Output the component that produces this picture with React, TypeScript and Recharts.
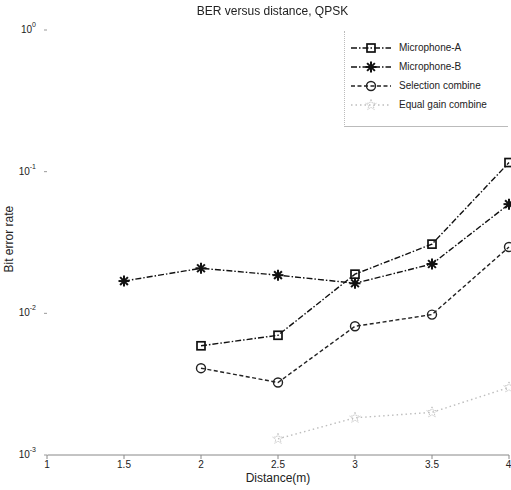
import React from "react";
import { Line, LineChart, XAxis, YAxis } from "recharts";

const distances = [1.5, 2, 2.5, 3, 3.5, 4];
const micA = [null, 0.0059, 0.007, 0.0189, 0.0308, 0.116];
const micB = [0.0169, 0.0208, 0.0186, 0.0163, 0.0223, 0.059];
const selection = [null, 0.0041, 0.00325, 0.0081, 0.0098, 0.0294];
const equalGain = [null, null, 0.0013, 0.00183, 0.002, 0.003];

const xTicks = [1, 1.5, 2, 2.5, 3, 3.5, 4];
const yTicks = [0.001, 0.01, 0.1, 1];
const yMinor = [2, 3, 4, 5, 6, 7, 8, 9].flatMap((m) => [m * 0.001, m * 0.01, m * 0.1]);

const data = distances.map((d, i) => ({
  d,
  micA: micA[i],
  micB: micB[i],
  selection: selection[i],
  equalGain: equalGain[i],
}));

const FONT = "'Liberation Sans', Arial, sans-serif";
const GREY = "#bdbdbd";

type MarkerKind = "square" | "star" | "circle" | "pent";

function Marker({ kind, cx, cy, color }: { kind: MarkerKind; cx: number; cy: number; color: string }) {
  if (kind === "square")
    return <rect x={cx - 4} y={cy - 4} width={8} height={8} fill="none" stroke={color} strokeWidth={1.7} />;
  if (kind === "circle") return <circle cx={cx} cy={cy} r={4.5} fill="none" stroke={color} strokeWidth={1.4} />;
  if (kind === "star") {
    const r = 5.5;
    const lines = [0, 45, 90, 135].map((a) => {
      const t = (a * Math.PI) / 180;
      return (
        <line key={a} x1={cx - r * Math.cos(t)} y1={cy - r * Math.sin(t)} x2={cx + r * Math.cos(t)} y2={cy + r * Math.sin(t)} stroke={color} strokeWidth={2} />
      );
    });
    return <g>{lines}</g>;
  }
  const pts: string[] = [];
  for (let k = 0; k < 10; k++) {
    const rr = k % 2 === 0 ? 5.5 : 2.3;
    const t = -Math.PI / 2 + (k * Math.PI) / 5;
    pts.push(`${cx + rr * Math.cos(t)},${cy + rr * Math.sin(t)}`);
  }
  return <polygon points={pts.join(" ")} fill="none" stroke={color} strokeWidth={0.9} strokeDasharray="1.5 1" />;
}

const dot = (kind: MarkerKind, color: string) => (p: any) => {
  if (p.value == null || p.cx == null || p.cy == null) return <g key={p.index} />;
  return <Marker key={p.index} kind={kind} cx={p.cx} cy={p.cy} color={color} />;
};

const series = [
  { key: "micA", name: "Microphone-A", kind: "square" as MarkerKind, color: "#111", dash: "6 2 1.5 2" },
  { key: "micB", name: "Microphone-B", kind: "star" as MarkerKind, color: "#111", dash: "6 2 1.5 2" },
  { key: "selection", name: "Selection combine", kind: "circle" as MarkerKind, color: "#222", dash: "4 2.5" },
  { key: "equalGain", name: "Equal gain combine", kind: "pent" as MarkerKind, color: GREY, dash: "1.5 3" },
];

function YTick({ x, y, payload }: any) {
  const exp = Math.round(Math.log10(payload.value));
  return (
    <text x={x - 6} y={y + 3} textAnchor="end" fontFamily={FONT} fontSize={10} fill="#222">
      10
      <tspan dy={-6} fontSize={7}>
        {exp}
      </tspan>
    </text>
  );
}

function LegendBox() {
  return (
    <div
      style={{
        position: "absolute",
        top: 31,
        left: 344,
        width: 164,
        height: 96,
        background: "#fff",
        borderLeft: "1px dotted #bbb",
        borderBottom: "1px solid #bbb",
        fontFamily: FONT,
        fontSize: 10,
        color: "#222",
        boxSizing: "border-box",
        paddingTop: 7,
      }}
    >
      {series.map((s) => (
        <div key={s.key} style={{ display: "flex", alignItems: "center", height: 19 }}>
          <svg width={44} height={14} style={{ marginLeft: 4 }}>
            <line x1={2} y1={7} x2={42} y2={7} stroke={s.color} strokeWidth={1.3} strokeDasharray={s.dash} />
            <Marker kind={s.kind} cx={22} cy={7} color={s.color} />
          </svg>
          <span style={{ marginLeft: 6 }}>{s.name}</span>
        </div>
      ))}
    </div>
  );
}

export default function App() {
  return (
    <div style={{ position: "fixed", left: 0, top: 0, width: 511, height: 490, background: "#fff" }}>
      <LineChart width={511} height={490} data={data} margin={{ top: 30, right: 2, left: 0, bottom: 0 }}>
        <XAxis
          dataKey="d"
          type="number"
          domain={[1, 4]}
          ticks={xTicks}
          height={35}
          tickSize={4}
          tickMargin={2}
          stroke="#888"
          tick={{ fontFamily: FONT, fontSize: 10, fill: "#222" }}
          label={{ value: "Distance(m)", position: "insideBottom", offset: 8, fontFamily: FONT, fontSize: 12, fill: "#222" }}
        />
        <XAxis xAxisId="top" dataKey="d" type="number" domain={[1, 4]} orientation="top" height={0} ticks={xTicks} tick={false} tickSize={3} mirror stroke="#bbb" strokeDasharray="8 3 2 3" />
        <YAxis
          yAxisId="l"
          scale="log"
          domain={[0.001, 1]}
          allowDataOverflow
          ticks={yTicks}
          width={47}
          tickSize={3}
          stroke="#fff"
          tickLine={{ stroke: "#999" }}
          tick={<YTick />}
          label={{ value: "Bit error rate", angle: -90, position: "insideLeft", offset: 9, dy: 30, fontFamily: FONT, fontSize: 12, fill: "#222" }}
        />
        <YAxis yAxisId="lm" scale="log" domain={[0.001, 1]} allowDataOverflow ticks={yMinor} width={0} mirror tickSize={2} tick={false} axisLine={false} tickLine={{ stroke: "#aaa" }} />
        <YAxis yAxisId="rm" orientation="right" scale="log" domain={[0.001, 1]} allowDataOverflow ticks={[...yMinor, ...yTicks]} width={0} mirror tickSize={3} tick={false} stroke="#999" strokeDasharray="2 2" />
        {series.map((s) => (
          <Line
            key={s.key}
            yAxisId="l"
            dataKey={s.key}
            name={s.name}
            stroke={s.color}
            strokeWidth={1.4}
            strokeDasharray={s.dash}
            dot={dot(s.kind, s.color)}
            activeDot={false}
            isAnimationActive={false}
          />
        ))}
      </LineChart>
      <div
        style={{
          position: "absolute",
          top: 4,
          left: 0,
          width: 545,
          textAlign: "center",
          fontFamily: FONT,
          fontSize: 12,
          color: "#222",
        }}
      >
        BER versus distance, QPSK
      </div>
      <LegendBox />
    </div>
  );
}
